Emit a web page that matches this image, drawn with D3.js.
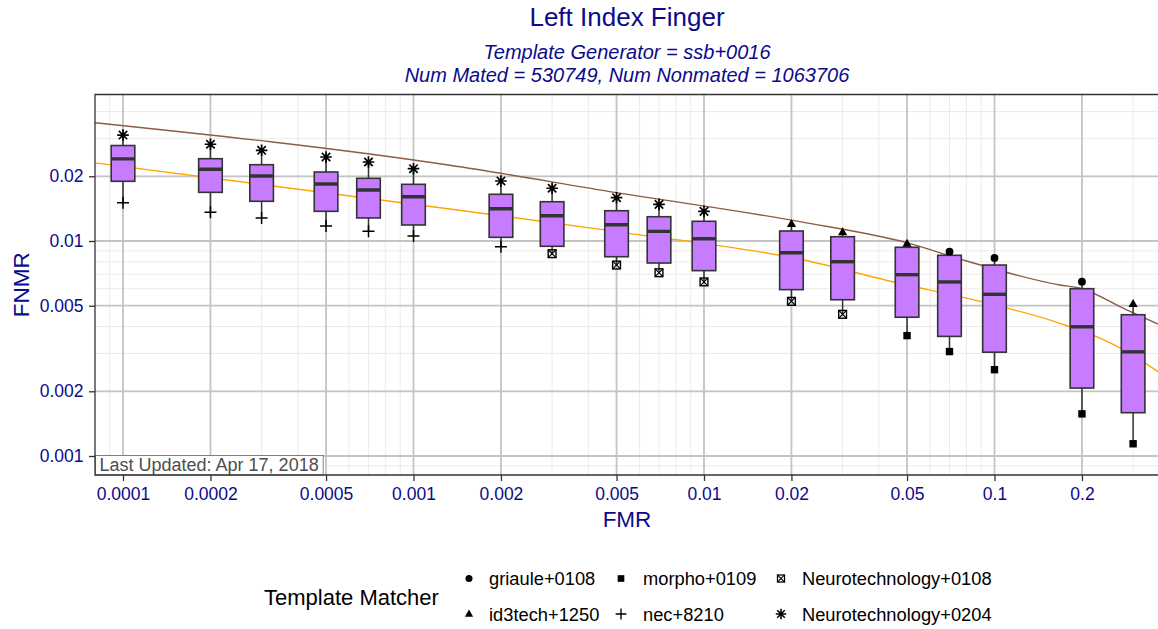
<!DOCTYPE html>
<html>
<head>
<meta charset="utf-8">
<script src="https://cdn.jsdelivr.net/npm/d3@7"></script>
<style>
  html, body { margin: 0; padding: 0; background: #fff; }
  svg { display: block; font-family: "Liberation Sans", Arial, sans-serif; }
</style>
</head>
<body>
<svg id="chart" width="1158" height="629"></svg>
<script>
// ---------------- data ----------------
const fmrLevels = [0.0001, 0.0002, 0.0003, 0.0005, 0.0007, 0.001, 0.002, 0.003, 0.005, 0.007,
                   0.01, 0.02, 0.03, 0.05, 0.07, 0.1, 0.2, 0.3];
const whiskerHigh = [0.0311, 0.02818, 0.02642, 0.02459, 0.0233, 0.02169, 0.01901, 0.01759, 0.0159, 0.01481,
                     0.01374, 0.0120, 0.01098, 0.00971, 0.00892, 0.00834, 0.00647, 0.00509];
const q3Values    = [0.0278, 0.02414, 0.02264, 0.02094, 0.01957, 0.01835, 0.01649, 0.01523, 0.01383, 0.01297,
                     0.01235, 0.01113, 0.01047, 0.00935, 0.00858, 0.00773, 0.0060, 0.00454];
const medianValues= [0.0241, 0.02156, 0.02006, 0.01842, 0.01727, 0.01607, 0.01413, 0.01311, 0.0119, 0.01109,
                     0.01025, 0.00882, 0.00801, 0.00697, 0.00645, 0.00565, 0.00399, 0.00305];
const q1Values    = [0.01895, 0.01684, 0.0153, 0.01374, 0.0128, 0.01187, 0.0104, 0.00945, 0.00845, 0.0079,
                     0.00728, 0.00594, 0.00533, 0.00442, 0.0036, 0.00304, 0.00207, 0.00159];
const whiskerLow  = [0.01507, 0.0136, 0.0128, 0.01174, 0.01109, 0.01055, 0.00941, 0.00873, 0.00773, 0.00712,
                     0.00645, 0.00524, 0.00456, 0.00363, 0.00306, 0.00252, 0.00157, 0.00114];
// which template matcher sits at the top / bottom of each box
const highMatcher = ["Neurotechnology+0204","Neurotechnology+0204","Neurotechnology+0204","Neurotechnology+0204",
  "Neurotechnology+0204","Neurotechnology+0204","Neurotechnology+0204","Neurotechnology+0204","Neurotechnology+0204",
  "Neurotechnology+0204","Neurotechnology+0204","id3tech+1250","id3tech+1250","id3tech+1250","griaule+0108",
  "griaule+0108","griaule+0108","id3tech+1250"];
const lowMatcher = ["nec+8210","nec+8210","nec+8210","nec+8210","nec+8210","nec+8210","nec+8210",
  "Neurotechnology+0108","Neurotechnology+0108","Neurotechnology+0108","Neurotechnology+0108","Neurotechnology+0108",
  "Neurotechnology+0108","morpho+0109","morpho+0109","morpho+0109","morpho+0109","morpho+0109"];

const matcherNames  = ["griaule+0108", "id3tech+1250", "morpho+0109", "nec+8210", "Neurotechnology+0108", "Neurotechnology+0204"];
const matcherShapes = ["circle", "triangle", "square", "plus", "boxcross", "star"];

// reference curves [FMR, FNMR]
const brownCurveFMR  = [0.0000801, 0.001335, 0.005006, 0.0214, 0.0498, 0.0802, 0.168, 0.197, 0.285, 0.3655];
const brownCurveFNMR = [0.0355, 0.0225, 0.01678, 0.0123, 0.00982, 0.00807, 0.00624, 0.00603, 0.00478, 0.00411];
const orangeCurveFMR  = [0.0000801, 0.001335, 0.005006, 0.0214, 0.0498, 0.0761, 0.168, 0.2307, 0.285, 0.3655];
const orangeCurveFNMR = [0.0231, 0.01409, 0.01105, 0.00822, 0.00624, 0.00551, 0.00414, 0.00353, 0.00306, 0.00247];

const xTickValues = [0.0001, 0.0002, 0.0005, 0.001, 0.002, 0.005, 0.01, 0.02, 0.05, 0.1, 0.2];
const xTickLabels = ["0.0001", "0.0002", "0.0005", "0.001", "0.002", "0.005", "0.01", "0.02", "0.05", "0.1", "0.2"];
const yTickValues = [0.001, 0.002, 0.005, 0.01, 0.02];
const yTickLabels = ["0.001", "0.002", "0.005", "0.01", "0.02"];

const titleText = "Left Index Finger";
const subtitleLines = ["Template Generator = ssb+0016", "Num Mated = 530749, Num Nonmated = 1063706"];
const xTitle = "FMR", yTitle = "FNMR";
const legendTitle = "Template Matcher";
const updatedText = "Last Updated: Apr 17, 2018";

// ---------------- layout ----------------
const svg = d3.select("#chart");
const panel = { left: 95, top: 94.5, right: 1162, bottom: 475 };
const textBlue = "#0B0B8A";

const x = d3.scaleLog().domain([0.0001, 0.1]).range([123, 994.5]);
const y = d3.scaleLog().domain([0.001, 0.01]).range([456, 241]);

const xMin = x.invert(panel.left), xMax = x.invert(panel.right);
const yMin = y.invert(panel.bottom), yMax = y.invert(panel.top);

svg.append("defs").append("clipPath").attr("id", "clip")
  .append("rect").attr("x", panel.left).attr("y", panel.top)
  .attr("width", panel.right - panel.left).attr("height", panel.bottom - panel.top);

svg.append("rect").attr("x", panel.left).attr("y", panel.top)
  .attr("width", panel.right - panel.left).attr("height", panel.bottom - panel.top)
  .attr("fill", "#fff");

const plot = svg.append("g").attr("clip-path", "url(#clip)");

// minor grid: every integer multiple of a power of ten
const minorVals = [];
for (let e = -5; e <= 0; e++) for (let k = 1; k <= 9; k++) minorVals.push(k * Math.pow(10, e));
const minorX = minorVals.filter(v => v > xMin && v < xMax);
const minorY = minorVals.filter(v => v > yMin && v < yMax);

plot.append("g").selectAll("line").data(minorX).join("line")
  .attr("x1", d => x(d)).attr("x2", d => x(d)).attr("y1", panel.top).attr("y2", panel.bottom)
  .attr("stroke", "#EBEBEB").attr("stroke-width", 1);
plot.append("g").selectAll("line").data(minorY).join("line")
  .attr("y1", d => y(d)).attr("y2", d => y(d)).attr("x1", panel.left).attr("x2", panel.right)
  .attr("stroke", "#EBEBEB").attr("stroke-width", 1);
plot.append("g").selectAll("line").data(xTickValues).join("line")
  .attr("x1", d => x(d)).attr("x2", d => x(d)).attr("y1", panel.top).attr("y2", panel.bottom)
  .attr("stroke", "#C4C4C4").attr("stroke-width", 1.8);
plot.append("g").selectAll("line").data(yTickValues).join("line")
  .attr("y1", d => y(d)).attr("y2", d => y(d)).attr("x1", panel.left).attr("x2", panel.right)
  .attr("stroke", "#C4C4C4").attr("stroke-width", 1.8);

// reference curves
const line = d3.line().x(d => x(d[0])).y(d => y(d[1])).curve(d3.curveMonotoneX);
plot.append("path").datum(brownCurveFMR.map((v, i) => [v, brownCurveFNMR[i]]))
  .attr("d", line).attr("fill", "none").attr("stroke", "#8E5B45").attr("stroke-width", 1.4);
plot.append("path").datum(orangeCurveFMR.map((v, i) => [v, orangeCurveFNMR[i]]))
  .attr("d", line).attr("fill", "none").attr("stroke", "#FFA500").attr("stroke-width", 1.4);

// boxes
const boxHalf = 11.8;
const boxes = fmrLevels.map((f, i) => ({
  f, lo: whiskerLow[i], q1: q1Values[i], med: medianValues[i], q3: q3Values[i], hi: whiskerHigh[i],
  hiM: highMatcher[i], loM: lowMatcher[i]
}));
const bg = plot.append("g");
const bx = bg.selectAll("g").data(boxes).join("g");
bx.append("line").attr("x1", d => x(d.f)).attr("x2", d => x(d.f))
  .attr("y1", d => y(d.hi)).attr("y2", d => y(d.q3)).attr("stroke", "#333").attr("stroke-width", 1.5);
bx.append("line").attr("x1", d => x(d.f)).attr("x2", d => x(d.f))
  .attr("y1", d => y(d.q1)).attr("y2", d => y(d.lo)).attr("stroke", "#333").attr("stroke-width", 1.5);
bx.append("rect").attr("x", d => x(d.f) - boxHalf).attr("width", boxHalf * 2)
  .attr("y", d => y(d.q3)).attr("height", d => y(d.q1) - y(d.q3))
  .attr("fill", "#C77CFF").attr("stroke", "#333").attr("stroke-width", 1.6);
bx.append("line").attr("x1", d => x(d.f) - boxHalf).attr("x2", d => x(d.f) + boxHalf)
  .attr("y1", d => y(d.med)).attr("y2", d => y(d.med)).attr("stroke", "#333").attr("stroke-width", 3.4);

// marker drawing
function drawShape(g, shape, cx, cy, k = 1) {
  const s = g.append("g").attr("transform", `translate(${cx},${cy}) scale(${k})`);
  if (shape === "circle") {
    s.append("circle").attr("r", 3.9).attr("fill", "#000");
  } else if (shape === "square") {
    s.append("rect").attr("x", -3.7).attr("y", -3.7).attr("width", 7.4).attr("height", 7.4).attr("fill", "#000");
  } else if (shape === "triangle") {
    s.append("path").attr("d", "M0,-5L4.6,3L-4.6,3Z").attr("fill", "#000");
  } else if (shape === "plus") {
    s.append("path").attr("d", "M-6,0H6M0,-6V6").attr("stroke", "#000").attr("stroke-width", 1.5);
  } else if (shape === "star") {
    s.append("path").attr("d", "M-5.8,0H5.8M0,-5.8V5.8M-4.2,-4.2L4.2,4.2M-4.2,4.2L4.2,-4.2")
      .attr("stroke", "#000").attr("stroke-width", 1.7);
  } else if (shape === "boxcross") {
    s.append("rect").attr("x", -3.9).attr("y", -3.9).attr("width", 7.8).attr("height", 7.8)
      .attr("fill", "none").attr("stroke", "#000").attr("stroke-width", 1.4);
    s.append("path").attr("d", "M-3.9,-3.9L3.9,3.9M-3.9,3.9L3.9,-3.9").attr("stroke", "#000").attr("stroke-width", 1.2);
  }
}
const shapeOf = name => matcherShapes[matcherNames.indexOf(name)];
const pg = plot.append("g");
boxes.forEach(d => {
  drawShape(pg, shapeOf(d.hiM), x(d.f), y(d.hi));
  drawShape(pg, shapeOf(d.loM), x(d.f), y(d.lo));
});

// last-updated label
const lab = svg.append("g");
const labText = lab.append("text").attr("x", 99.5).attr("y", 471)
  .attr("font-size", 18).attr("fill", "#4D4D4D").text(updatedText);
const tw = labText.node().getComputedTextLength();
lab.insert("rect", "text").attr("x", 95.5).attr("y", 455.5).attr("width", tw + 8.5).attr("height", 19.5)
  .attr("fill", "#fff").attr("stroke", "#666").attr("stroke-width", 0.8);

// panel border (left, top, bottom)
svg.append("path")
  .attr("d", `M${panel.right},${panel.top}H${panel.left}V${panel.bottom}H${panel.right}`)
  .attr("fill", "none").attr("stroke", "#333").attr("stroke-width", 1.3);

// axes
const xAxis = svg.append("g").attr("transform", `translate(0,${panel.bottom})`)
  .call(d3.axisBottom(x).tickValues(xTickValues).tickFormat((d, i) => xTickLabels[i]).tickSize(6).tickPadding(7));
const yAxis = svg.append("g").attr("transform", `translate(${panel.left},0)`)
  .call(d3.axisLeft(y).tickValues(yTickValues).tickFormat((d, i) => yTickLabels[i]).tickSize(6).tickPadding(5.5));
[xAxis, yAxis].forEach(a => {
  a.select(".domain").remove();
  a.selectAll(".tick line").attr("stroke", "#333").attr("stroke-width", 1.3);
  a.selectAll(".tick text").attr("fill", textBlue).attr("font-size", 17.5)
    .attr("font-family", "Liberation Sans, Arial, sans-serif");
});

// titles
const cx = 627;
svg.append("text").attr("x", cx).attr("y", 26).attr("text-anchor", "middle")
  .attr("font-size", 26).attr("fill", textBlue).text(titleText);
subtitleLines.forEach((t, i) => {
  svg.append("text").attr("x", cx).attr("y", 59 + i * 22.5).attr("text-anchor", "middle")
    .attr("font-size", 20).attr("font-style", "italic").attr("fill", textBlue).text(t);
});
svg.append("text").attr("x", cx).attr("y", 527).attr("text-anchor", "middle")
  .attr("font-size", 22.5).attr("fill", textBlue).text(xTitle);
svg.append("text").attr("transform", `translate(28.5,${(panel.top + panel.bottom) / 2}) rotate(-90)`)
  .attr("text-anchor", "middle").attr("font-size", 22.5).attr("fill", textBlue).text(yTitle);

// legend
const leg = svg.append("g");
leg.append("text").attr("x", 264).attr("y", 604.5).attr("font-size", 22).attr("fill", "#000").text(legendTitle);
const colSym = [469, 621, 781], colText = [489, 643, 802], rowY = [578.5, 614];
matcherNames.forEach((name, i) => {
  const col = Math.floor(i / 2), row = i % 2;
  drawShape(leg, matcherShapes[i], colSym[col], rowY[row], 0.9);
  leg.append("text").attr("x", colText[col]).attr("y", rowY[row] + 6.5)
    .attr("font-size", 18.3).attr("fill", "#000").text(name);
});
</script>
</body>
</html>
